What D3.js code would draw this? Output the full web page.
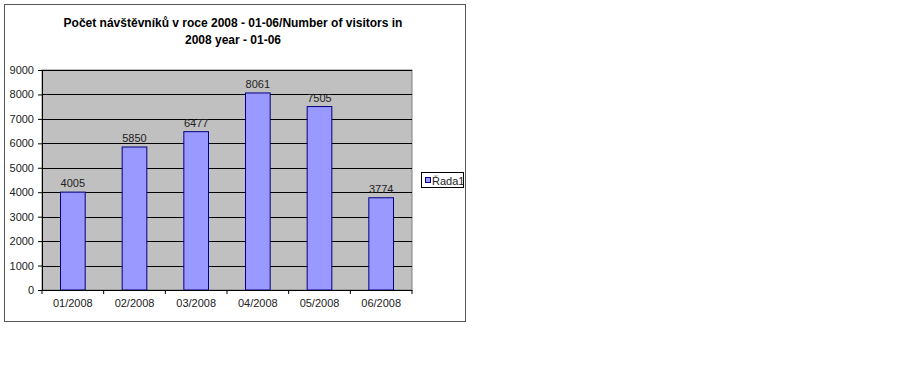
<!DOCTYPE html>
<html><head><meta charset="utf-8">
<script src="https://cdn.jsdelivr.net/npm/d3@7"></script>
<style>body{margin:0;background:#fff;} text{font-family:Arial,"Liberation Sans",sans-serif;}</style>
</head><body>
<svg id="c" width="900" height="389"></svg>
<script>
const categories = ["01/2008","02/2008","03/2008","04/2008","05/2008","06/2008"];
const values = [4005,5850,6477,8061,7505,3774];
const yTicks = [0,1000,2000,3000,4000,5000,6000,7000,8000,9000];
const seriesName = "Řada1";
const titleLines = ["Počet návštěvníků v roce 2008 - 01-06/Number of visitors in","2008 year - 01-06"];

const svg = d3.select("#c");
svg.append("rect").attr("x",4.5).attr("y",4.5).attr("width",461).attr("height",317)
  .attr("fill","#fff").attr("stroke","#555").attr("stroke-width",1);

const pL=42, pR=412, pT=70, pB=290;
const x = d3.scaleBand().domain(categories).range([pL,pR]).paddingInner(0.6).paddingOuter(0.3);
const xb = d3.scaleBand().domain(categories).range([pL,pR]);
const y = d3.scaleLinear().domain([0,9000]).range([pB,pT]);

svg.append("rect").attr("x",pL).attr("y",pT).attr("width",pR-pL).attr("height",pB-pT)
  .attr("fill","#c0c0c0").attr("stroke","#808080").attr("stroke-width",1);

svg.append("g").selectAll("line").data(yTicks.slice(1)).join("line")
  .attr("x1",pL).attr("x2",pR).attr("y1",d=>Math.round(y(d))+0.5).attr("y2",d=>Math.round(y(d))+0.5)
  .attr("stroke","#000").attr("stroke-width",1);

svg.append("g").selectAll("rect").data(values).join("rect")
  .attr("x",(d,i)=>x(categories[i])).attr("width",x.bandwidth())
  .attr("y",d=>y(d)).attr("height",d=>pB-y(d))
  .attr("fill","#9999ff").attr("stroke","#000080").attr("stroke-width",1);

svg.append("g").selectAll("text").data(values).join("text")
  .attr("x",(d,i)=>x(categories[i])+x.bandwidth()/2).attr("y",d=>y(d)-5)
  .attr("text-anchor","middle").attr("font-size",11).attr("fill","#222").text(d=>d);

const ya = svg.append("g").attr("transform",`translate(${pL},0)`)
  .call(d3.axisLeft(y).tickValues(yTicks).tickFormat(d3.format("d")).tickSize(4).tickPadding(4).tickSizeOuter(0));
ya.select(".domain").attr("stroke","#000");
ya.selectAll("text").attr("font-size",11).attr("fill","#222").attr("font-family","Arial, Liberation Sans, sans-serif");

const xa = svg.append("g").attr("transform",`translate(0,${pB})`)
  .call(d3.axisBottom(xb).tickSize(0).tickPadding(9));
xa.select(".domain").attr("stroke","#000");
xa.selectAll("text").attr("font-size",11).attr("fill","#222").attr("font-family","Arial, Liberation Sans, sans-serif");
svg.append("g").selectAll("line").data(d3.range(categories.length+1)).join("line")
  .attr("x1",i=>pL+i*xb.step()).attr("x2",i=>pL+i*xb.step())
  .attr("y1",pB).attr("y2",pB+4).attr("stroke","#000");

svg.append("g").selectAll("text").data(titleLines).join("text")
  .attr("x",233).attr("y",(d,i)=>27+i*17).attr("text-anchor","middle")
  .attr("font-size",12).attr("font-weight","bold").text(d=>d);

const lg = svg.append("g");
lg.append("rect").attr("x",421.5).attr("y",172.5).attr("width",42).attr("height",15)
  .attr("fill","#fff").attr("stroke","#000");
lg.append("rect").attr("x",425.5).attr("y",177.5).attr("width",5).attr("height",5)
  .attr("fill","#9999ff").attr("stroke","#000080");
lg.append("text").attr("x",432).attr("y",184.5).attr("font-size",11).attr("fill","#222").text(seriesName);
</script>
</body></html>
